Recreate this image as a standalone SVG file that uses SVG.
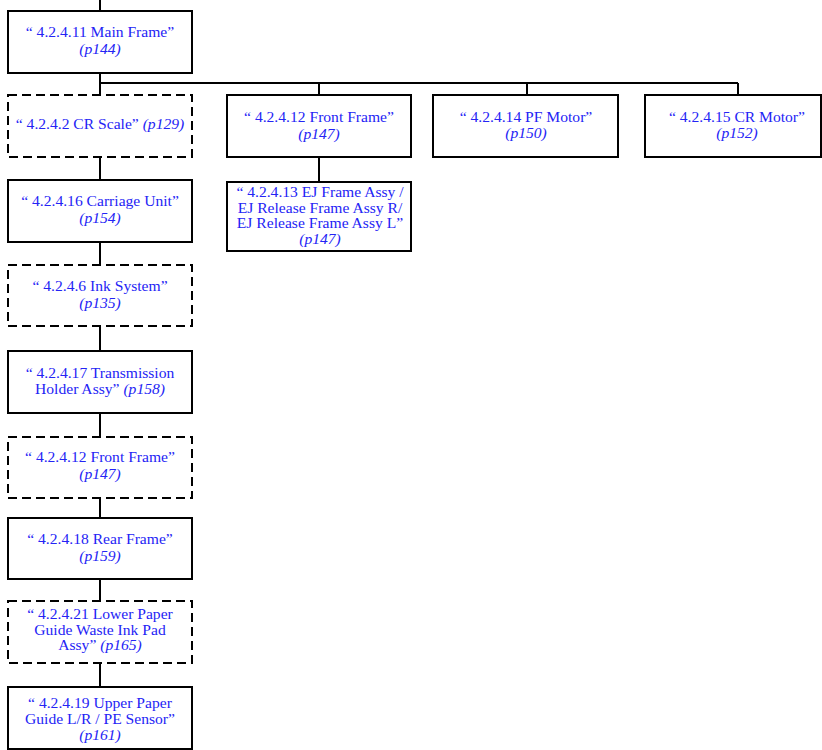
<svg xmlns="http://www.w3.org/2000/svg" width="822" height="750" viewBox="0 0 822 750">
<style>
.box{fill:#fff;stroke:#000;stroke-width:2}
.dash{fill:#fff;stroke:#000;stroke-width:2;stroke-dasharray:9 5}
.con{stroke:#000;stroke-width:2;fill:none}
text{font-family:"Liberation Serif","Times New Roman",serif;font-size:15.6px;fill:#2424f5;text-anchor:middle}
.i{font-style:italic}
</style>
<rect width="822" height="750" fill="#fff"/>
<g id="connectors">
<path class="con" d="M100 0V11M100 73V95M100 157V180M100 242V265M100 326V351M100 413V437M100 498V518M100 579V601M100 663V687M100 83H738M319 83V95M527 83V95M738 83V95M319 157V182"/>
</g>
<g id="main-frame"><rect class="box" x="8" y="11" width="184" height="62"/><text x="100" y="37">“ 4.2.4.11 Main Frame”</text><text class="i" x="100" y="54">(p144)</text></g>
<g id="cr-scale"><rect class="dash" x="8" y="95" width="184" height="62"/><text x="100" y="129">“ 4.2.4.2 CR Scale” <tspan class="i">(p129)</tspan></text></g>
<g id="front-frame"><rect class="box" x="227" y="95" width="184" height="62"/><text x="319" y="122">“ 4.2.4.12 Front Frame”</text><text class="i" x="319" y="139">(p147)</text></g>
<g id="pf-motor"><rect class="box" x="433" y="95" width="185" height="62"/><text x="526" y="122">“ 4.2.4.14 PF Motor”</text><text class="i" x="526" y="138">(p150)</text></g>
<g id="cr-motor"><rect class="box" x="645" y="95" width="176" height="62"/><text x="737" y="122">“ 4.2.4.15 CR Motor”</text><text class="i" x="737" y="138">(p152)</text></g>
<g id="ej-frame"><rect class="box" x="227" y="182" width="184" height="69"/><text x="320" y="197">“ 4.2.4.13 EJ Frame Assy /</text><text x="320" y="212.5">EJ Release Frame Assy R/</text><text x="320" y="228">EJ Release Frame Assy L”</text><text class="i" x="320" y="243.5">(p147)</text></g>
<g id="carriage-unit"><rect class="box" x="8" y="180" width="184" height="62"/><text x="100" y="206">“ 4.2.4.16 Carriage Unit”</text><text class="i" x="100" y="223">(p154)</text></g>
<g id="ink-system"><rect class="dash" x="8" y="265" width="184" height="61"/><text x="100" y="291">“ 4.2.4.6 Ink System”</text><text class="i" x="100" y="308">(p135)</text></g>
<g id="transmission"><rect class="box" x="8" y="351" width="184" height="62"/><text x="100" y="378">“ 4.2.4.17 Transmission</text><text x="100" y="394">Holder Assy” <tspan class="i">(p158)</tspan></text></g>
<g id="front-frame-2"><rect class="dash" x="8" y="437" width="184" height="61"/><text x="100" y="462">“ 4.2.4.12 Front Frame”</text><text class="i" x="100" y="479">(p147)</text></g>
<g id="rear-frame"><rect class="box" x="8" y="518" width="184" height="61"/><text x="100" y="544">“ 4.2.4.18 Rear Frame”</text><text class="i" x="100" y="561">(p159)</text></g>
<g id="lower-paper"><rect class="dash" x="8" y="601" width="184" height="62"/><text x="100" y="619">“ 4.2.4.21 Lower Paper</text><text x="100" y="634.5">Guide Waste Ink Pad</text><text x="100" y="650">Assy” <tspan class="i">(p165)</tspan></text></g>
<g id="upper-paper"><rect class="box" x="8" y="687" width="184" height="62"/><text x="100" y="708">“ 4.2.4.19 Upper Paper</text><text x="100" y="724">Guide L/R / PE Sensor”</text><text class="i" x="100" y="740">(p161)</text></g>
</svg>
